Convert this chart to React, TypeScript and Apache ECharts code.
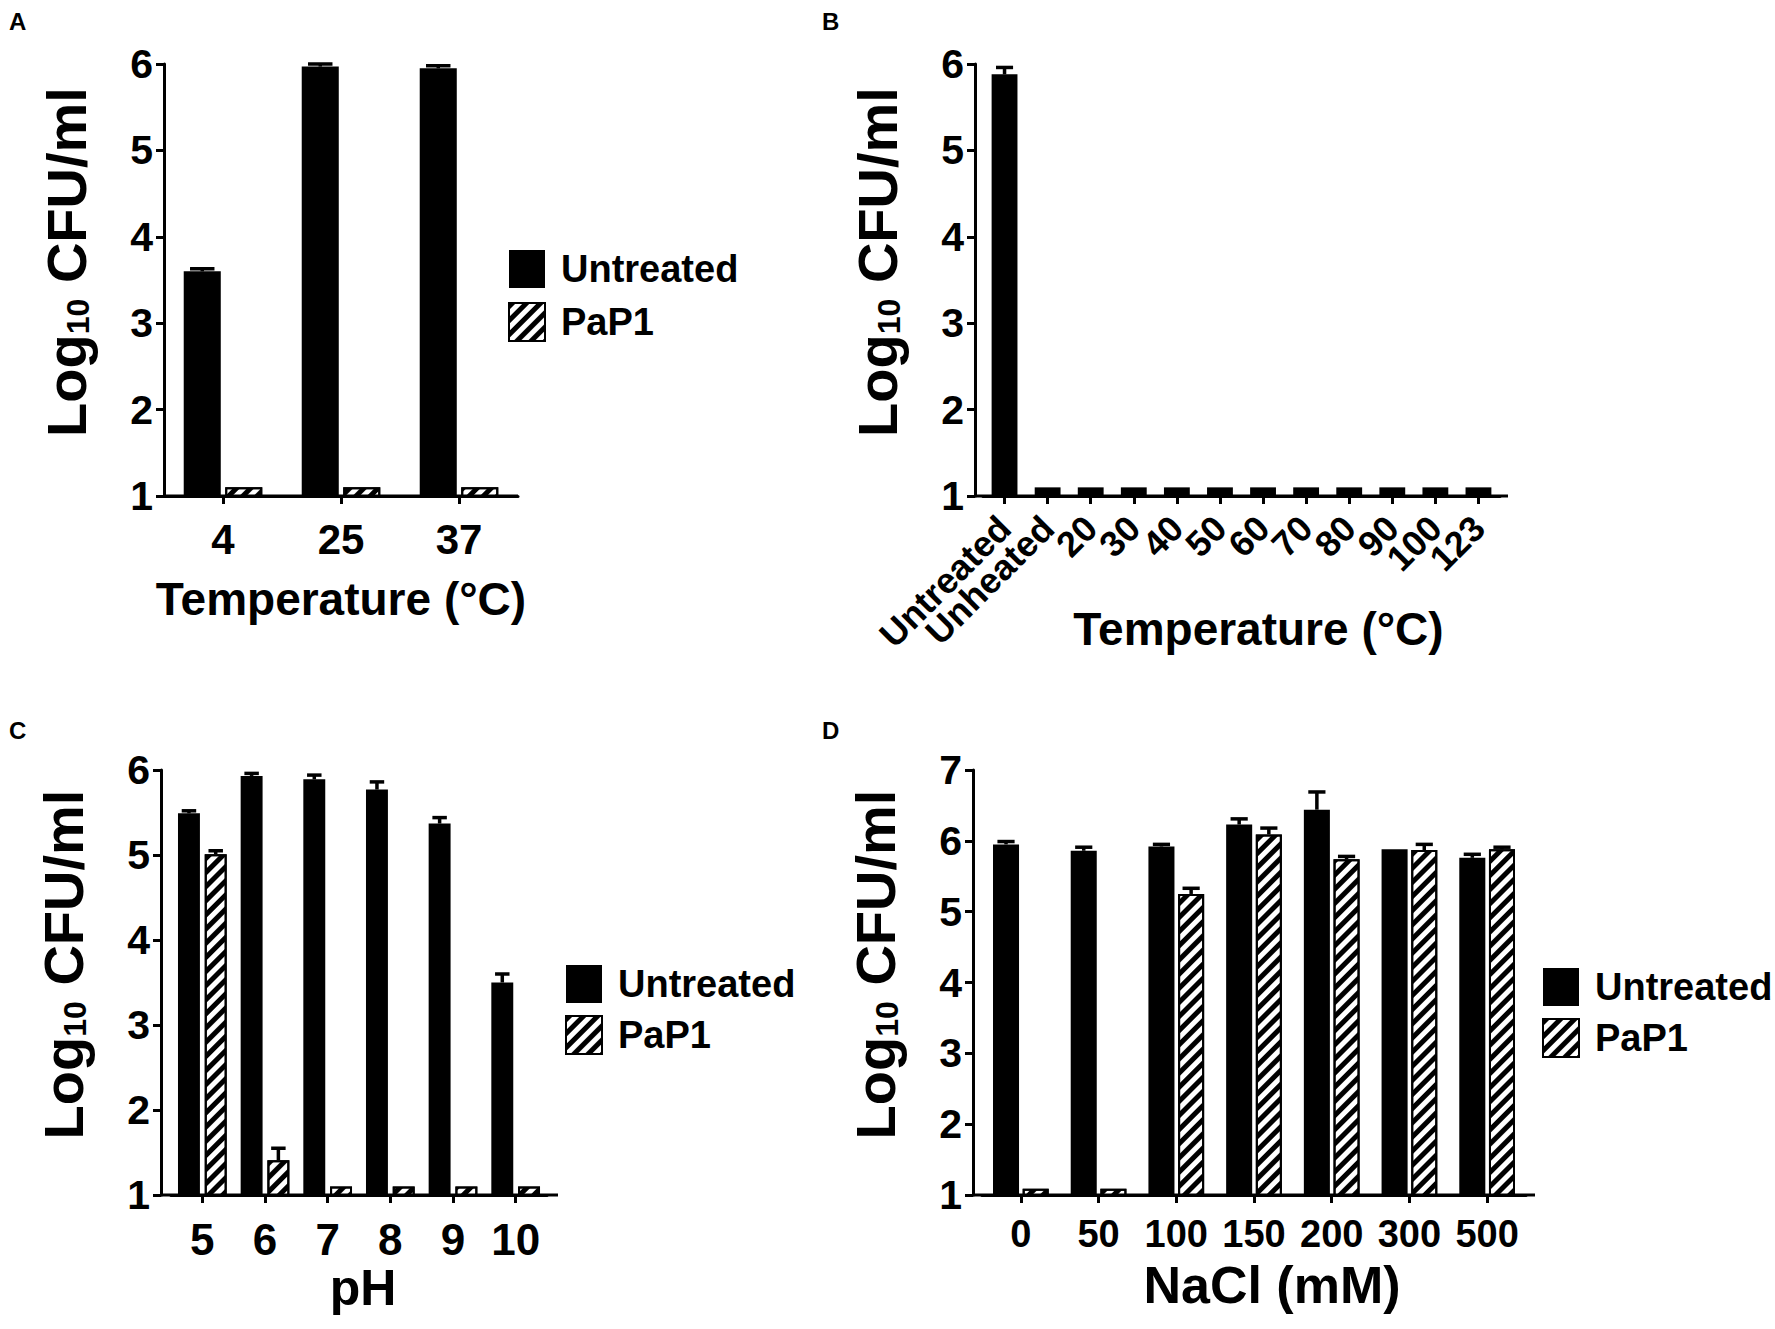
import React, { useEffect, useRef } from 'react';
import * as echarts from 'echarts';

const FONT = '"Liberation Sans", Arial, Helvetica, sans-serif';

// ---------- Data ----------
const catsA = ['4', '25', '37'];
const untreatedA = [3.6, 5.97, 5.95];
const untreatedErrA = [0.03, 0.03, 0.03];
const pap1A = [1.1, 1.1, 1.1];
const pap1ErrA = [0, 0, 0];

const catsB = ['Untreated', 'Unheated', '20', '30', '40', '50', '60', '70', '80', '90', '100', '123'];
const valuesB = [5.88, 1.1, 1.1, 1.1, 1.1, 1.1, 1.1, 1.1, 1.1, 1.1, 1.1, 1.1];
const errB = [0.08, 0, 0, 0, 0, 0, 0, 0, 0, 0, 0, 0];

const catsC = ['5', '6', '7', '8', '9', '10'];
const untreatedC = [5.49, 5.93, 5.89, 5.77, 5.37, 3.5];
const untreatedErrC = [0.03, 0.03, 0.05, 0.09, 0.07, 0.1];
const pap1C = [5.01, 1.41, 1.1, 1.1, 1.1, 1.1];
const pap1ErrC = [0.04, 0.14, 0, 0, 0, 0];

const catsD = ['0', '50', '100', '150', '200', '300', '500'];
const untreatedD = [5.95, 5.86, 5.92, 6.23, 6.44, 5.88, 5.76];
const untreatedErrD = [0.04, 0.05, 0.03, 0.08, 0.25, 0, 0.05];
const pap1D = [1.09, 1.09, 5.25, 6.09, 5.74, 5.87, 5.88];
const pap1ErrD = [0, 0, 0.08, 0.09, 0.04, 0.08, 0.03];

const legendNames = ['Untreated', 'PaP1'];
const yTitle = '{a|Log}{b|10}{a| CFU/ml}';

// ---------- Styles ----------
const hatchDecal = {
  symbol: 'rect',
  symbolSize: 1,
  color: '#000',
  backgroundColor: '#fff',
  dashArrayX: [1, 0],
  dashArrayY: [5, 5],
  rotation: -Math.PI / 4,
};

const blackStyle = { color: '#000' };
const hatchStyle = { color: '#fff', borderColor: '#000', borderWidth: 2, decal: hatchDecal };

interface Panel {
  letter: string;
  letterX: number;
  letterY: number;
  yAxisX: number;
  gridLeft: number;
  width: number;
  top: number;
  height: number;
  padR: number;
  yMax: number;
  cats: string[];
  xName: string;
  xNameSize: number;
  xNameGap: number;
  xNameShift: number;
  xLabelSize: number;
  xLabelMargin: number;
  xLabelRotate: number;
  barWidth: number;
  barGap: number;
  series: { name: string; values: number[]; errs: number[]; hatched: boolean }[];
}

const panels: Panel[] = [
  {
    letter: 'A', letterX: 9, letterY: 21,
    yAxisX: 164, gridLeft: 164, width: 354, top: 64, height: 432, padR: 0, yMax: 6,
    cats: catsA, xName: 'Temperature (°C)', xNameSize: 46, xNameGap: 80, xNameShift: 0,
    xLabelSize: 42, xLabelMargin: 22, xLabelRotate: 0,
    barWidth: 0.314, barGap: 0.12,
    series: [
      { name: 'Untreated', values: untreatedA, errs: untreatedErrA, hatched: false },
      { name: 'PaP1', values: pap1A, errs: pap1ErrA, hatched: true },
    ],
  },
  {
    letter: 'B', letterX: 822, letterY: 21,
    yAxisX: 975, gridLeft: 983, width: 517, top: 64, height: 432, padR: 8, yMax: 6,
    cats: catsB, xName: 'Temperature (°C)', xNameSize: 46, xNameGap: 110, xNameShift: 17,
    xLabelSize: 36, xLabelMargin: 26, xLabelRotate: 45,
    barWidth: 0.6, barGap: 0,
    series: [
      { name: 'Heated', values: valuesB, errs: errB, hatched: false },
    ],
  },
  {
    letter: 'C', letterX: 9, letterY: 730,
    yAxisX: 161, gridLeft: 171, width: 376, top: 770, height: 425, padR: 11, yMax: 6,
    cats: catsC, xName: 'pH', xNameSize: 50, xNameGap: 68, xNameShift: 4,
    xLabelSize: 44, xLabelMargin: 22, xLabelRotate: 0,
    barWidth: 0.35, barGap: 0.22,
    series: [
      { name: 'Untreated', values: untreatedC, errs: untreatedErrC, hatched: false },
      { name: 'PaP1', values: pap1C, errs: pap1ErrC, hatched: true },
    ],
  },
  {
    letter: 'D', letterX: 822, letterY: 730,
    yAxisX: 973, gridLeft: 982, width: 544, top: 770, height: 425, padR: 9, yMax: 7,
    cats: catsD, xName: 'NaCl (mM)', xNameSize: 52, xNameGap: 64, xNameShift: 18,
    xLabelSize: 38, xLabelMargin: 20, xLabelRotate: 0,
    barWidth: 0.335, barGap: 0.14,
    series: [
      { name: 'Untreated', values: untreatedD, errs: untreatedErrD, hatched: false },
      { name: 'PaP1', values: pap1D, errs: pap1ErrD, hatched: true },
    ],
  },
];

const legendPos = [
  { left: 508, top: 250, gap: 14 },
  null,
  { left: 565, top: 965, gap: 12 },
  { left: 1542, top: 968, gap: 12 },
];

function makeErrRender(offsetFrac: number, barFrac: number) {
  return (params: any, api: any) => {
    const idx = api.value(0);
    const val = api.value(1);
    const err = api.value(2);
    if (!err) return null;
    const bandW = api.size([1, 0])[0];
    const base = api.coord([idx, val]);
    const top = api.coord([idx, val + err]);
    const x = base[0] + offsetFrac * bandW;
    const half = (barFrac * bandW * 0.66) / 2;
    const st = { stroke: '#000', lineWidth: 3.5 };
    return {
      type: 'group',
      children: [
        { type: 'line', shape: { x1: x, y1: base[1], x2: x, y2: top[1] }, style: st },
        { type: 'line', shape: { x1: x - half, y1: top[1], x2: x + half, y2: top[1] }, style: st },
      ],
    };
  };
}

function buildOption() {
  const grid: any[] = [];
  const xAxis: any[] = [];
  const yAxis: any[] = [];
  const series: any[] = [];
  const graphic: any[] = [];
  const legend: any[] = [];

  panels.forEach((p, i) => {
    const bottom = p.top + p.height;
    grid.push({ left: p.gridLeft, top: p.top, width: p.width, height: p.height });
    xAxis.push({
      type: 'category',
      gridIndex: i,
      data: p.cats,
      axisLine: { show: true, onZero: false, lineStyle: { color: '#000', width: 3 } },
      axisTick: { show: true, alignWithLabel: true, length: 8, lineStyle: { color: '#000', width: 3 } },
      axisLabel: {
        interval: 0,
        rotate: p.xLabelRotate,
        margin: p.xLabelMargin,
        color: '#000',
        fontSize: p.xLabelSize,
        fontWeight: 'bold',
        fontFamily: FONT,
      },
      splitLine: { show: false },
      name: p.xName,
      nameLocation: 'middle',
      nameGap: p.xNameGap,
      nameMoveOverlap: false,
      nameTextStyle: {
        color: '#000',
        fontSize: p.xNameSize,
        fontWeight: 'bold',
        fontFamily: FONT,
        padding: [0, 0, 0, p.xNameShift * 2],
      },
    });
    yAxis.push({
      type: 'value',
      gridIndex: i,
      min: 1,
      max: p.yMax,
      interval: 1,
      offset: p.gridLeft - p.yAxisX,
      axisLine: { show: true, lineStyle: { color: '#000', width: 3 } },
      axisTick: { show: true, length: 8, lineStyle: { color: '#000', width: 3 } },
      axisLabel: { margin: 11, color: '#000', fontSize: 41, fontWeight: 'bold', fontFamily: FONT },
      splitLine: { show: false },
      name: yTitle,
      nameLocation: 'middle',
      nameGap: 70,
      nameMoveOverlap: false,
      nameTextStyle: {
        padding: [0, 0, 0, 36],
        rich: {
          a: { fontSize: 56, fontWeight: 'bold', fontFamily: FONT, color: '#000' },
          b: { fontSize: 32, fontWeight: 'bold', fontFamily: FONT, color: '#000', verticalAlign: 'bottom' },
        },
      },
    });

    const n = p.series.length;
    const bw = p.barWidth;
    p.series.forEach((s, k) => {
      series.push({
        type: 'bar',
        name: s.name,
        xAxisIndex: i,
        yAxisIndex: i,
        data: s.values,
        barWidth: bw * 100 + '%',
        barGap: p.barGap * 100 + '%',
        itemStyle: s.hatched ? hatchStyle : blackStyle,
        clip: true,
        silent: true,
      });
      const offset = n === 1 ? 0 : (k === 0 ? -1 : 1) * (bw + p.barGap * bw) / 2;
      series.push({
        type: 'custom',
        name: 'err-' + p.letter + '-' + s.name,
        xAxisIndex: i,
        yAxisIndex: i,
        data: s.values.map((v, j) => [j, v, s.errs[j]]),
        encode: { x: 0, y: 1 },
        renderItem: makeErrRender(offset, bw),
        z: 5,
        silent: true,
      });
    });

    // x-axis line extension beyond the category bands
    graphic.push({
      type: 'line',
      shape: { x1: p.yAxisX, y1: bottom, x2: p.gridLeft + p.width + p.padR, y2: bottom },
      style: { stroke: '#000', lineWidth: 3 },
      z: 3,
    });
    graphic.push({
      type: 'text',
      x: p.letterX,
      y: p.letterY,
      style: {
        text: p.letter,
        fill: '#000',
        fontSize: 24,
        fontWeight: 'bold',
        fontFamily: FONT,
        textVerticalAlign: 'middle',
        verticalAlign: 'middle',
      },
    });

    const lp = legendPos[i];
    if (lp) {
      legend.push({
        data: legendNames,
        orient: 'vertical',
        left: lp.left,
        top: lp.top,
        itemWidth: 36,
        itemHeight: 38,
        itemGap: lp.gap,
        padding: 0,
        icon: 'rect',
        selectedMode: false,
        textStyle: {
          color: '#000',
          fontSize: 38,
          fontWeight: 'bold',
          fontFamily: FONT,
          padding: [0, 0, 0, 11],
        },
      });
    }
  });

  return {
    animation: false,
    backgroundColor: '#fff',
    grid,
    xAxis,
    yAxis,
    series,
    legend,
    graphic,
  };
}

export default function App() {
  const ref = useRef<HTMLDivElement>(null);
  useEffect(() => {
    document.body.style.margin = '0';
    if (!ref.current) return;
    const chart = echarts.init(ref.current, undefined, { renderer: 'svg' });
    chart.setOption(buildOption() as any);
    return () => chart.dispose();
  }, []);
  return <div ref={ref} style={{ width: 1775, height: 1329, background: '#fff' }} />;
}
